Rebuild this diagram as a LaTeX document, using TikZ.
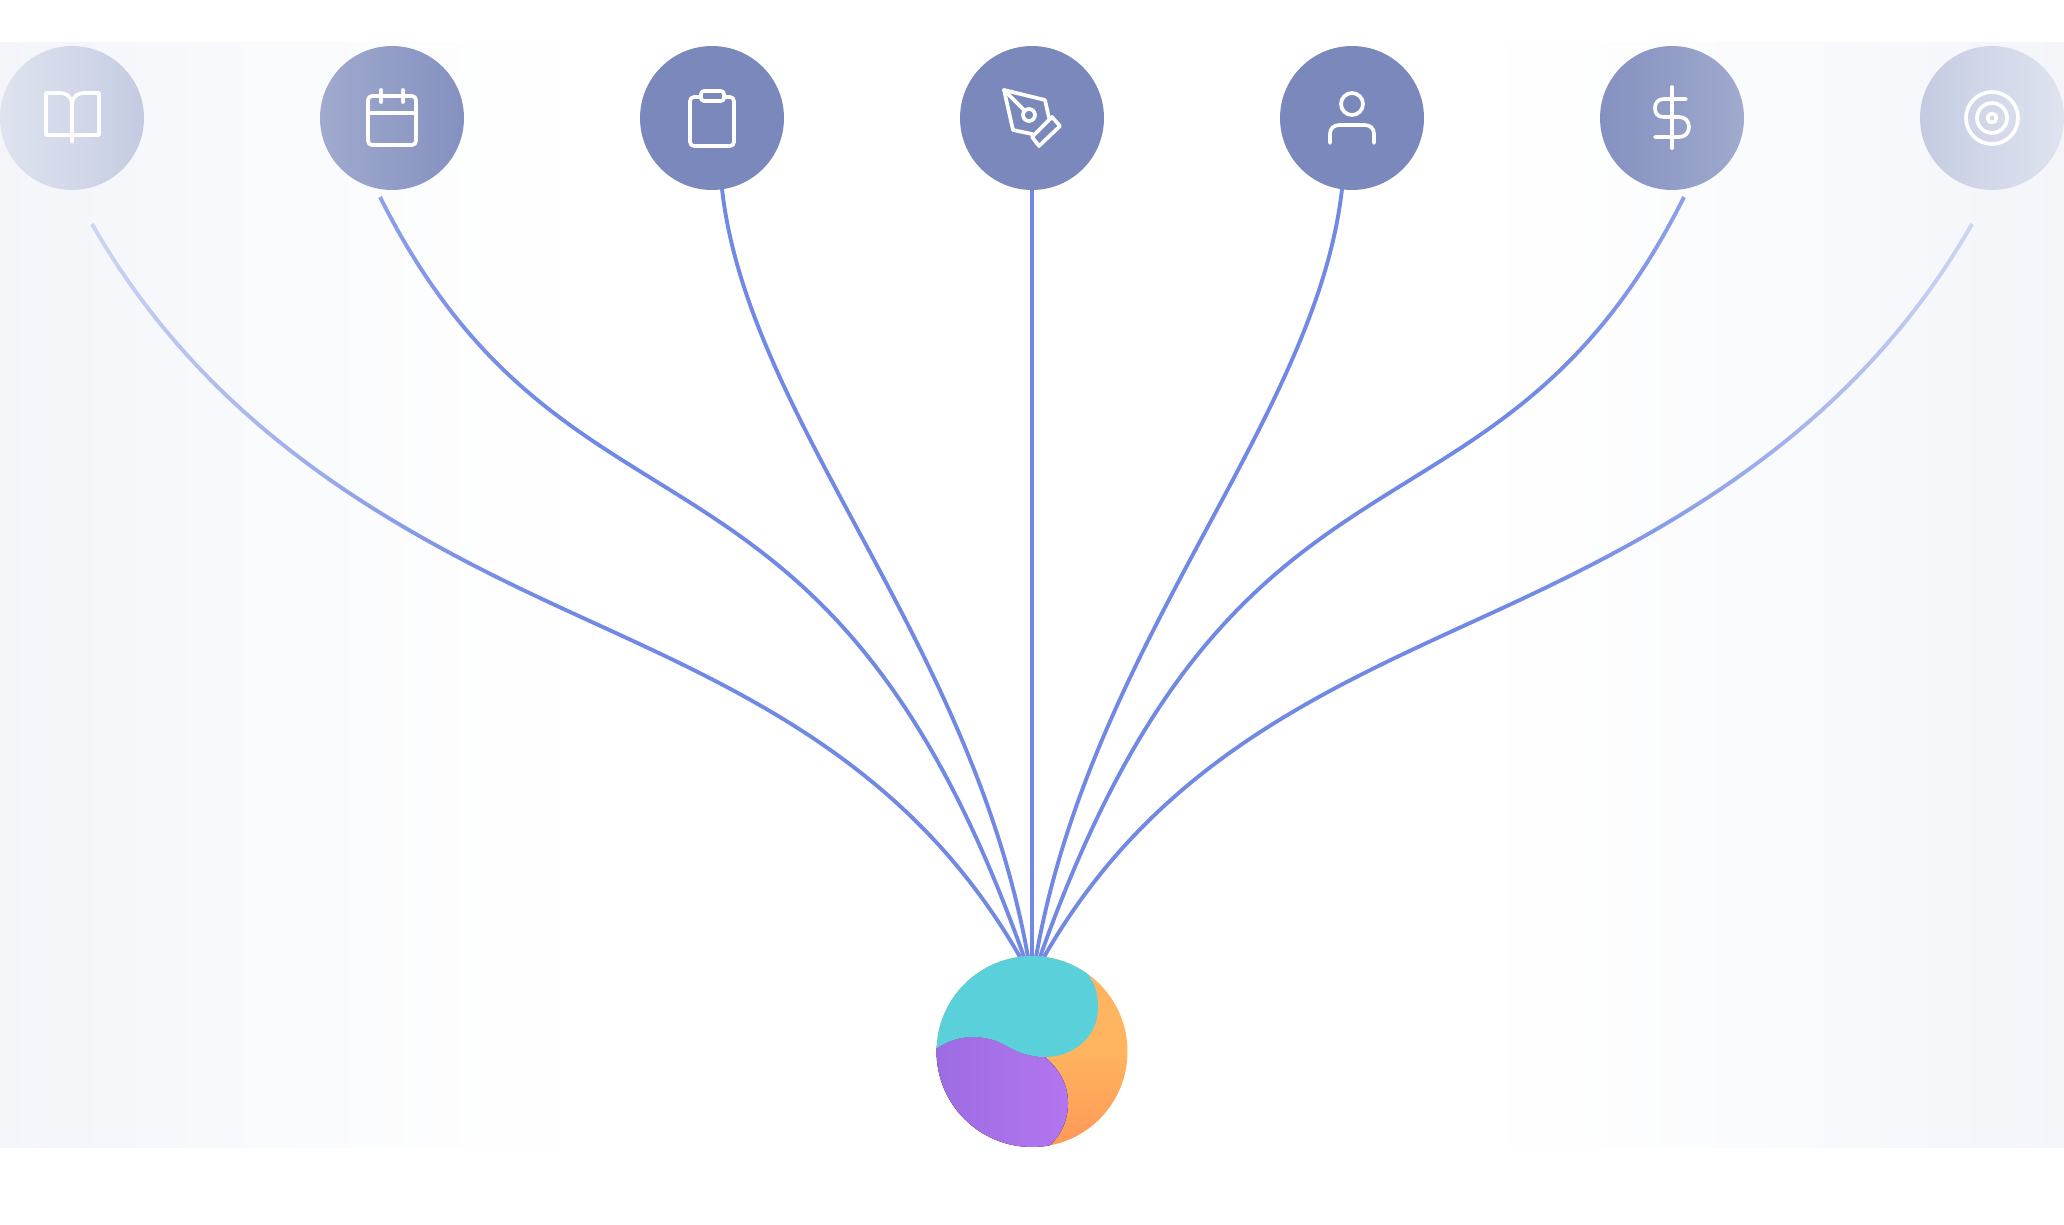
\documentclass[tikz,border=0pt]{standalone}
\usepackage{xcolor}
\usetikzlibrary{
    fadings
}
\definecolor{DiscBlue}{RGB}{123,136,187}
\definecolor{WireBlue}{RGB}{113,137,228}
\definecolor{EdgeTint}{RGB}{241,244,249}
\definecolor{HubTeal}{RGB}{90,209,218}
\definecolor{HubOrangeA}{RGB}{255,180,95}
\definecolor{HubOrangeB}{RGB}{255,152,88}
\definecolor{HubPurpleA}{RGB}{155,107,226}
\definecolor{HubPurpleB}{RGB}{178,117,239}
\tikzset{
  disc/.style  = {circle, fill=DiscBlue, inner sep=0pt, minimum size=2.88cm},
  wire/.style  = {draw=WireBlue, line width=2.2pt},
  glyph/.style = {draw=white, line width=2.1pt, line cap=round, line join=round},
}
\pgfdeclarehorizontalshading{edgeramp}{100bp}{
  color(0bp)=(black!15); color(25bp)=(black!15); color(33.2bp)=(black!28);
  color(39.9bp)=(black!42); color(53.6bp)=(black!68); color(66.4bp)=(black!92);
  color(75bp)=(black); color(100bp)=(black)}
\tikzfading[name=edgefade, shading=edgeramp]

\begin{document}
\begin{tikzpicture}[x=0.02cm,y=-0.02cm]
\path[use as bounding box, fill=white] (0,0) rectangle (2064,1224);

% discs
\node[disc] (bookDisc) at (72,118) {};
\node[disc] (calendarDisc) at (392,118) {};
\node[disc] (clipDisc) at (712,118) {};
\node[disc] (penDisc) at (1032,118) {};
\node[disc] (personDisc) at (1352,118) {};
\node[disc] (dollarDisc) at (1672,118) {};
\node[disc] (targetDisc) at (1992,118) {};
\node[circle, inner sep=0pt, minimum size=3.82cm, top color=HubOrangeA, bottom color=HubOrangeB, middle color=HubOrangeA] (hub) at (1032,1051.5) {};

% wire ends
\coordinate (bookTail) at (92,224);
\coordinate (calendarTail) at (380,197);
\coordinate (clipTail) at (722,189);
\coordinate (personTail) at (1342,189);
\coordinate (dollarTail) at (1684,197);
\coordinate (targetTail) at (1972,224);
\coordinate (hubA) at (1020,957);
\coordinate (hubB) at (1024,957);
\coordinate (hubC) at (1028,957);
\coordinate (hubD) at (1036,957);
\coordinate (hubE) at (1040,957);
\coordinate (hubF) at (1044,957);

\draw[wire] (bookTail) .. controls (202,416) and (370,518) .. (540,598) .. controls (710,678) and (900,747) .. (hubA);
\draw[wire] (calendarTail) .. controls (570,575) and (825,395) .. (hubB);
\draw[wire] (clipTail) .. controls (748,420) and (972,640) .. (hubC);
\draw[wire] (penDisc.south) -- (hub.north);
\draw[wire] (personTail) .. controls (1316,420) and (1092,640) .. (hubD);
\draw[wire] (dollarTail) .. controls (1494,575) and (1239,395) .. (hubE);
\draw[wire] (targetTail) .. controls (1862,416) and (1694,518) .. (1524,598) .. controls (1354,678) and (1164,747) .. (hubF);

% hub
\begin{scope}
\clip (hub.center) circle (1.91cm);
\fill[left color=HubPurpleA, right color=HubPurpleB] (937,1048) .. controls (947,1041) and (960,1037) .. (972,1037)
  .. controls (985,1037) and (995,1039) .. (1007,1046) .. controls (1017,1052) and (1030,1057) .. (1045,1057)
  .. controls (1060,1070) and (1068,1085) .. (1068,1103) .. controls (1068,1120) and (1061,1135) .. (1050,1145)
  -- (1050,1160) -- (925,1160) -- (925,1048) -- cycle;
\fill[HubTeal] (1087,973) .. controls (1096,985) and (1098,995) .. (1098,1008)
  .. controls (1098,1036) and (1074,1057) .. (1045,1057) .. controls (1030,1057) and (1017,1052) .. (1007,1046)
  .. controls (995,1039) and (985,1037) .. (972,1037) .. controls (960,1037) and (947,1041) .. (937,1048)
  -- (925,1048) -- (925,945) -- (1087,945) -- cycle;
\end{scope}

% side tint
\fill[EdgeTint, path fading=edgefade] (0,42) rectangle (560,1148);
\fill[EdgeTint, path fading=edgefade, fading angle=180] (1504,42) rectangle (2064,1148);

% book
\draw[glyph] (72,102) .. controls (70,96) and (66,93) .. (60,93) -- (46,93) -- (46,135) -- (99,135) -- (99,93) -- (84,93) .. controls (78,93) and (74,96) .. (72,102) -- (72,142);
% calendar
\draw[glyph, rounded corners=2.3pt] (368,96) rectangle (416,145);
\draw[glyph] (368,113) -- (416,113);
\draw[glyph] (381,90) -- (381,102);
\draw[glyph] (403,90) -- (403,102);
% clipboard
\draw[glyph, rounded corners=2.3pt] (701,97) -- (690,97) -- (690,146) -- (734,146) -- (734,97) -- (724,97);
\draw[glyph, rounded corners=1.8pt] (701,91) rectangle (724,101);
% pen
\draw[glyph] (1049,118) -- (1045,100) -- (1004,90) -- (1013,130) -- (1032,134);
\draw[glyph] (1004,90) -- (1025,111);
\draw[glyph] (1029,115) circle (6);
\draw[glyph] (1052,117) -- (1060,126) -- (1039,146) -- (1032,137) -- cycle;
% person
\draw[glyph] (1352,104) circle (11);
\draw[glyph] (1330,143) -- (1330,134) .. controls (1330,128) and (1334,125) .. (1340,125) -- (1364,125) .. controls (1370,125) and (1374,128) .. (1374,134) -- (1374,143);
% dollar
\draw[glyph] (1672,87) -- (1672,148);
\draw[glyph] (1686,99) -- (1664,99) .. controls (1658,99) and (1655,103) .. (1655,108) .. controls (1655,114) and (1658,117) .. (1664,117) -- (1679,117) .. controls (1685,117) and (1689,121) .. (1689,127) .. controls (1689,133) and (1685,137) .. (1679,137) -- (1655,137);
% target
\draw[glyph] (1992,118) circle (26);
\draw[glyph] (1992,118) circle (15);
\draw[glyph] (1992,118) circle (4.5);
\end{tikzpicture}
\end{document}
